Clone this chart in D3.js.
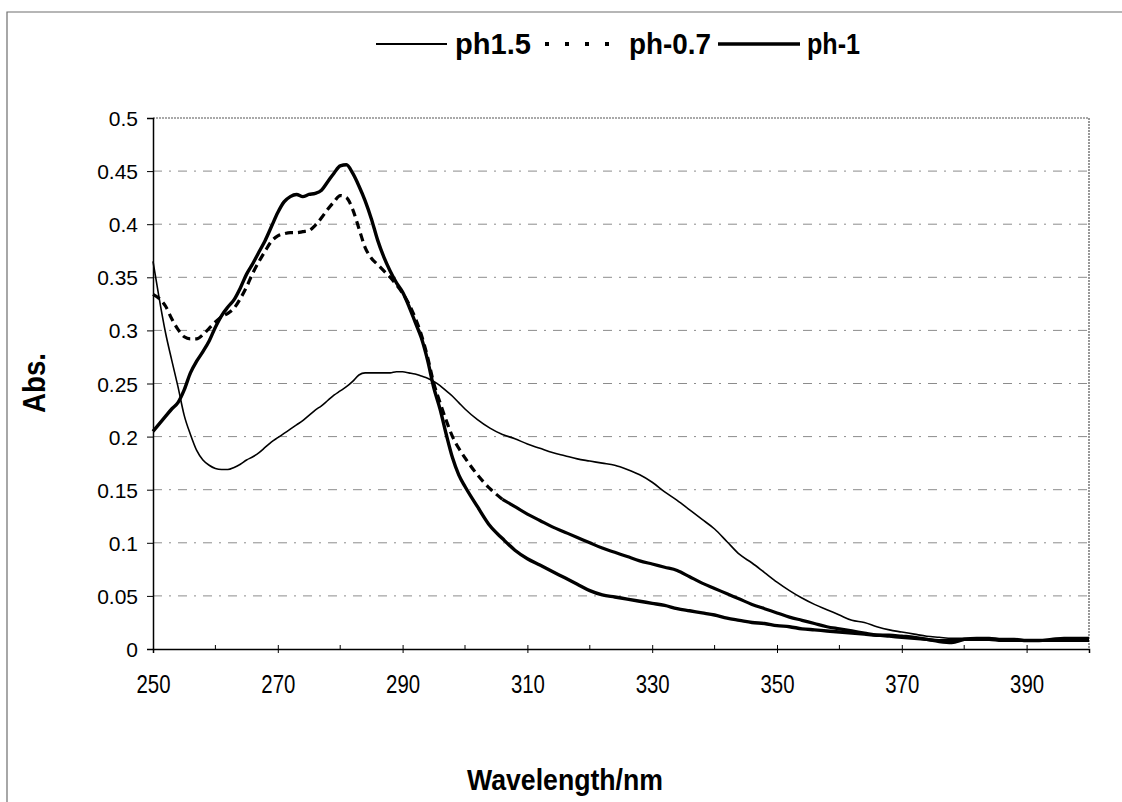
<!DOCTYPE html>
<html>
<head>
<meta charset="utf-8">
<script src="https://cdn.jsdelivr.net/npm/d3@7"></script>
<style>
  html, body { margin: 0; padding: 0; background: #fff; }
  svg { display: block; }
  text { font-family: "Liberation Sans", Arial, Helvetica, sans-serif; fill: #000; }
</style>
</head>
<body>
<svg id="chart" width="1122" height="802"></svg>
<script>
// Wavelength grid (nm): 1 nm steps to 300, then 2 nm steps to 400
const wavelength = [
  250,251,252,253,254,255,256,257,258,259,260,261,262,263,264,265,266,267,268,269,
  270,271,272,273,274,275,276,277,278,279,280,281,282,283,284,285,286,287,288,289,
  290,291,292,293,294,295,296,297,298,299,300,
  302,304,306,308,310,312,314,316,318,320,322,324,326,328,330,332,334,336,338,340,
  342,344,346,348,350,352,354,356,358,360,362,364,366,368,370,372,374,376,378,380,
  382,384,386,388,390,392,394,396,398,400
];

// Absorbance, pH 1.5
const ph15 = [
  0.365,0.330,0.298,0.272,0.247,0.220,0.202,0.187,0.178,0.173,0.170,0.169,0.169,0.171,0.174,0.178,0.181,0.185,0.190,0.195,
  0.199,0.203,0.207,0.211,0.215,0.220,0.225,0.229,0.234,0.239,0.243,0.247,0.252,0.258,0.260,0.260,0.260,0.260,0.260,0.261,
  0.261,0.260,0.259,0.257,0.255,0.252,0.248,0.243,0.238,0.232,0.226,
  0.216,0.208,0.202,0.198,0.193,0.189,0.185,0.182,0.179,0.177,0.175,0.173,0.169,0.164,0.157,0.148,0.140,0.131,0.122,0.113,
  0.101,0.089,0.081,0.072,0.063,0.055,0.048,0.042,0.037,0.032,0.027,0.025,0.021,0.018,0.016,0.014,0.012,0.011,0.010,0.010,
  0.010,0.009,0.009,0.009,0.008,0.008,0.008,0.009,0.009,0.009
];

// Absorbance, pH -0.7
const phm07 = [
  0.334,0.330,0.323,0.311,0.301,0.294,0.292,0.292,0.296,0.302,0.308,0.313,0.316,0.321,0.330,0.341,0.354,0.365,0.375,0.384,
  0.389,0.391,0.392,0.392,0.393,0.394,0.399,0.406,0.414,0.421,0.427,0.425,0.414,0.396,0.378,0.368,0.362,0.356,0.350,0.343,
  0.335,0.325,0.312,0.296,0.275,0.250,0.232,0.215,0.200,0.189,0.180,
  0.164,0.151,0.141,0.134,0.127,0.121,0.115,0.110,0.105,0.100,0.095,0.091,0.087,0.083,0.080,0.077,0.074,0.068,0.062,0.057,
  0.052,0.047,0.042,0.038,0.034,0.030,0.027,0.024,0.021,0.019,0.017,0.015,0.013,0.012,0.011,0.010,0.009,0.008,0.008,0.009,
  0.009,0.009,0.008,0.008,0.008,0.008,0.008,0.008,0.008,0.008
];

// Absorbance, pH -1
const phm1 = [
  0.205,0.212,0.219,0.226,0.232,0.244,0.260,0.271,0.280,0.290,0.303,0.314,0.322,0.329,0.340,0.353,0.363,0.374,0.385,0.398,
  0.411,0.421,0.426,0.428,0.426,0.428,0.429,0.432,0.440,0.448,0.455,0.456,0.448,0.436,0.422,0.405,0.385,0.369,0.356,0.345,
  0.336,0.323,0.308,0.293,0.272,0.246,0.226,0.202,0.180,0.164,0.153,
  0.134,0.116,0.104,0.093,0.085,0.079,0.073,0.067,0.061,0.055,0.051,0.049,0.047,0.045,0.043,0.041,0.038,0.036,0.034,0.032,
  0.029,0.027,0.025,0.024,0.022,0.021,0.019,0.018,0.017,0.016,0.015,0.014,0.013,0.013,0.012,0.011,0.009,0.007,0.006,0.009,
  0.010,0.010,0.009,0.009,0.008,0.008,0.009,0.010,0.010,0.010
];

const seriesNames = ["ph1.5", "ph-0.7", "ph-1"];
const xTicks = [250, 270, 290, 310, 330, 350, 370, 390];
const xMinorTicks = [260, 280, 300, 320, 340, 360, 380, 400];
const yTicks = [0, 0.05, 0.1, 0.15, 0.2, 0.25, 0.3, 0.35, 0.4, 0.45, 0.5];
const xTitle = "Wavelength/nm";
const yTitle = "Abs.";

const svg = d3.select("#chart");
const plot = { left: 153, right: 1089, top: 118, bottom: 649 };

const x = d3.scaleLinear().domain([250, 400]).range([plot.left, plot.right]);
const y = d3.scaleLinear().domain([0, 0.5]).range([plot.bottom, plot.top]);

// outer chart frame (only top and left edges fall inside the page)
svg.append("path")
  .attr("d", `M7,802 L7,12 L1122,12`)
  .attr("fill", "none").attr("stroke", "#6e6e6e").attr("stroke-width", 1.2);

// horizontal gridlines
svg.append("g").selectAll("line")
  .data(yTicks.filter(v => v > 0 && v < 0.5))
  .join("line")
  .attr("x1", plot.left).attr("x2", plot.right)
  .attr("y1", d => y(d)).attr("y2", d => y(d))
  .attr("stroke", "#8c8c8c").attr("stroke-width", 1)
  .attr("stroke-dasharray", "9,7,2,7");

// top and right edges of the plot area
svg.append("path")
  .attr("d", `M${plot.left},${y(0.5)} L${plot.right},${y(0.5)} L${plot.right},${plot.bottom}`)
  .attr("fill", "none").attr("stroke", "#555").attr("stroke-width", 1.2)
  .attr("stroke-dasharray", "2,1");

// y axis
const yAxis = d3.axisLeft(y).tickValues(yTicks).tickSize(6).tickPadding(9)
  .tickFormat(d => d3.format("~g")(d));
const gy = svg.append("g").attr("transform", `translate(${plot.left},0)`).call(yAxis);
gy.select(".domain").attr("stroke", "#000").attr("stroke-width", 1.5);
gy.selectAll(".tick line").attr("stroke", "#000");
gy.selectAll(".tick text").attr("font-size", 21).attr("dy", "0.36em")
  .style("font-family", '"Liberation Sans", Arial, sans-serif');

// x axis: major ticks crossing the axis, minor ticks inside
const xAxis = d3.axisBottom(x).tickValues(xTicks).tickSize(4).tickPadding(22)
  .tickFormat(d3.format("d"));
const gx = svg.append("g").attr("transform", `translate(0,${plot.bottom})`).call(xAxis);
gx.select(".domain").attr("stroke", "#000").attr("stroke-width", 1.5);
gx.selectAll(".tick line").attr("stroke", "#000").attr("y1", -4).attr("y2", 4);
gx.selectAll(".tick text").attr("font-size", 25)
  .attr("textLength", 34).attr("lengthAdjust", "spacingAndGlyphs")
  .style("font-family", '"Liberation Sans", Arial, sans-serif');
svg.append("g").selectAll("line")
  .data(xMinorTicks.filter(v => v < 400))
  .join("line")
  .attr("x1", d => x(d)).attr("x2", d => x(d))
  .attr("y1", plot.bottom - 4).attr("y2", plot.bottom)
  .attr("stroke", "#000").attr("stroke-width", 1);

// spectra
const rows = wavelength.map((w, i) => ({ w, a: ph15[i], b: phm07[i], c: phm1[i] }));
const line = key => d3.line().x(d => x(d.w)).y(d => y(d[key])).curve(d3.curveMonotoneX);

const lines = svg.append("g").attr("fill", "none").attr("stroke", "#000")
  .attr("stroke-linejoin", "round");

lines.append("path").datum(rows).attr("d", line("a")).attr("stroke-width", 1.6);

// pH -0.7: dashes open up on the steep part, run together where points are dense
lines.append("path").datum(rows.filter(d => d.w <= 306)).attr("d", line("b"))
  .attr("stroke-width", 3.2).attr("stroke-dasharray", "8,5");
lines.append("path").datum(rows.filter(d => d.w >= 306)).attr("d", line("b"))
  .attr("stroke-width", 3.2);

lines.append("path").datum(rows).attr("d", line("c")).attr("stroke-width", 3.4);

// legend
const legend = svg.append("g");
const legendItems = [
  { name: seriesNames[0], x1: 376, x2: 447, tx: 455, w: 1.8, dash: null, tl: 76 },
  { name: seriesNames[1], x1: 545, x2: 622, tx: 629, w: 4, dash: "4,16", tl: 82 },
  { name: seriesNames[2], x1: 718, x2: 800, tx: 807, w: 3.4, dash: null, tl: 53 }
];
legendItems.forEach(it => {
  legend.append("line")
    .attr("x1", it.x1).attr("x2", it.x2).attr("y1", 44).attr("y2", 44)
    .attr("stroke", "#000").attr("stroke-width", it.w)
    .attr("stroke-dasharray", it.dash);
  legend.append("text")
    .attr("x", it.tx).attr("y", 54)
    .attr("font-size", 29).attr("font-weight", "bold")
    .attr("textLength", it.tl).attr("lengthAdjust", "spacingAndGlyphs")
    .text(it.name);
});

// axis titles
svg.append("text")
  .attr("x", 467).attr("y", 790)
  .attr("font-size", 30).attr("font-weight", "bold")
  .attr("textLength", 196).attr("lengthAdjust", "spacingAndGlyphs")
  .text(xTitle);

svg.append("text")
  .attr("transform", "translate(45,413) rotate(-90)")
  .attr("font-size", 32).attr("font-weight", "bold")
  .attr("textLength", 60).attr("lengthAdjust", "spacingAndGlyphs")
  .text(yTitle);
</script>
</body>
</html>
